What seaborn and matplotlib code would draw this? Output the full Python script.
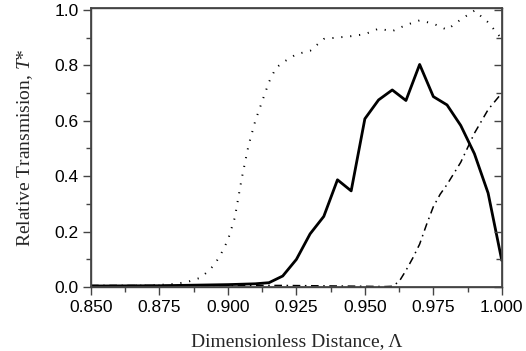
import pandas as pd
import seaborn as sns
import matplotlib
matplotlib.use("Agg")
import matplotlib.pyplot as plt
from matplotlib.ticker import MultipleLocator

sns.set_theme(style="ticks")
plt.rcParams['font.family'] = ['Liberation Sans', 'DejaVu Sans']
plt.rcParams['mathtext.fontset'] = 'custom'
plt.rcParams['mathtext.it'] = 'Liberation Serif:italic'
plt.rcParams['mathtext.rm'] = 'Liberation Serif'

# solid curve
solid_x = [0.850, 0.875, 0.900, 0.910, 0.915, 0.920, 0.925, 0.930, 0.935,
           0.940, 0.945, 0.950, 0.955, 0.960, 0.965, 0.970, 0.975, 0.980,
           0.985, 0.990, 0.995, 1.000]
solid_y = [0.004, 0.005, 0.009, 0.012, 0.016, 0.040, 0.100, 0.192, 0.255,
           0.387, 0.347, 0.607, 0.675, 0.711, 0.673, 0.803, 0.687, 0.657,
           0.583, 0.481, 0.339, 0.096]

# dotted curve
dot_x = [0.850, 0.860, 0.870, 0.875, 0.880, 0.885, 0.890, 0.8925, 0.895,
         0.8975, 0.900, 0.9025, 0.905, 0.9075, 0.910, 0.9125, 0.915, 0.9175,
         0.920, 0.925, 0.930, 0.935, 0.940, 0.945, 0.950, 0.955, 0.960,
         0.965, 0.970, 0.975, 0.980, 0.985, 0.990, 0.995, 1.000]
dot_y = [0.004, 0.004, 0.006, 0.008, 0.011, 0.018, 0.034, 0.055, 0.080,
         0.120, 0.170, 0.250, 0.390, 0.510, 0.600, 0.670, 0.740, 0.790,
         0.810, 0.840, 0.852, 0.895, 0.900, 0.905, 0.912, 0.932, 0.923,
         0.945, 0.962, 0.950, 0.928, 0.965, 0.997, 0.955, 0.895]

# dash-dot curve
dd_x = [0.850, 0.900, 0.920, 0.930, 0.940, 0.950, 0.9575, 0.960, 0.9625,
        0.965, 0.9675, 0.970, 0.9725, 0.975, 0.9775, 0.980, 0.985, 0.990,
        0.995, 1.000]
dd_y = [0.006, 0.006, 0.006, 0.005, 0.004, 0.003, 0.002, 0.003, 0.020,
        0.060, 0.105, 0.155, 0.225, 0.290, 0.335, 0.370, 0.450, 0.555,
        0.640, 0.700]

solid = pd.DataFrame({"x": solid_x, "y": solid_y})
dotted = pd.DataFrame({"x": dot_x, "y": dot_y})
dashdot = pd.DataFrame({"x": dd_x, "y": dd_y})

fig = plt.figure(figsize=(5.26, 3.51), dpi=100)
ax = fig.add_axes([0.173, 0.182, 0.781, 0.794])

sns.lineplot(data=dotted, x="x", y="y", ax=ax, color="black", lw=1.4,
             linestyle=(0, (0.6, 4.0)))
sns.lineplot(data=dashdot, x="x", y="y", ax=ax, color="black", lw=1.1,
             linestyle=(0, (5, 3, 1, 3)))
sns.lineplot(data=solid, x="x", y="y", ax=ax, color="black", lw=2.0)

ax.set_xlim(0.85, 1.0)
ax.set_ylim(0, 1.005)
ax.xaxis.set_major_locator(MultipleLocator(0.025))
ax.xaxis.set_minor_locator(MultipleLocator(0.0125))
ax.yaxis.set_major_locator(MultipleLocator(0.2))
ax.yaxis.set_minor_locator(MultipleLocator(0.1))
ax.set_xticklabels(["{:.3f}".format(v) for v in ax.get_xticks()])
ax.set_yticklabels(["{:.1f}".format(v) for v in ax.get_yticks()])

for s in ax.spines.values():
    s.set_color("#444444")
    s.set_linewidth(1.0)

ax.tick_params(axis="both", which="major", direction="out", length=6,
               width=1, color="#444444", labelsize=12.5, labelcolor="black", pad=3)
ax.tick_params(axis="both", which="minor", direction="out", length=3.5,
               width=1, color="#444444")

# inward ticks on the right side
ax2 = ax.twinx()
ax2.set_ylim(ax.get_ylim())
ax2.yaxis.set_major_locator(MultipleLocator(0.2))
ax2.yaxis.set_minor_locator(MultipleLocator(0.1))
ax2.tick_params(axis="y", which="major", direction="in", length=6, width=1,
                color="#444444", labelright=False)
ax2.tick_params(axis="y", which="minor", direction="in", length=4, width=1,
                color="#444444")
for s in ax2.spines.values():
    s.set_color("#444444")

ax.set_xlabel("Dimensionless Distance, \u039b", family="Liberation Serif",
              fontsize=14, labelpad=13)
ax.set_ylabel("Relative Transmision, $T$*", family="Liberation Serif",
              fontsize=14, labelpad=14)

plt.savefig("out.png", dpi=100)
